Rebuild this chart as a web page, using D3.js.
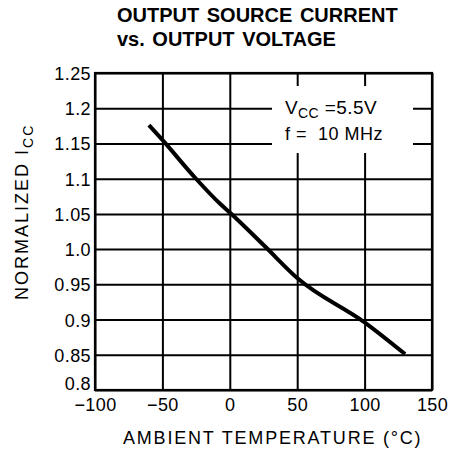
<!DOCTYPE html>
<html>
<head>
<meta charset="utf-8">
<script src="https://cdn.jsdelivr.net/npm/d3@7"></script>
<style>
  html, body { margin: 0; padding: 0; background: #fff; }
  svg { display: block; font-family: "Liberation Sans", Arial, Helvetica, sans-serif; }
</style>
</head>
<body>
<svg id="chart" width="454" height="454"></svg>
<script>
// ---- data ----
const titleLines = ["OUTPUT SOURCE CURRENT", "vs. OUTPUT VOLTAGE"];
const xTicks = [-100, -50, 0, 50, 100, 150];
const xTickLabels = ["\u2212100", "\u221250", "0", "50", "100", "150"];
const yTicks = [1.25, 1.2, 1.15, 1.1, 1.05, 1.0, 0.95, 0.9, 0.85, 0.8];
const yTickLabels = ["1.25", "1.2", "1.15", "1.1", "1.05", "1.0", "0.95", "0.9", "0.85", "0.8"];
const temperature = [-60, -50, -27, -7, 0, 26, 50, 100, 130];
const normalizedIcc = [1.176, 1.155, 1.104, 1.064, 1.052, 1.004, 0.959, 0.896, 0.851];
const xTitle = "AMBIENT TEMPERATURE (\u00B0C)";
const yTitleMain = "NORMALIZED I";
const yTitleSub = "CC";
const noteLine1 = ["V", "CC", " =5.5V"];
const noteLine2 = "f =  10 MHz";

// ---- layout ----
const svg = d3.select("#chart");
const pL = 95, pR = 432, pT = 73, pB = 390;
const x = d3.scaleLinear().domain([-100, 150]).range([pL, pR]);
const y = d3.scaleLinear().domain([0.8, 1.25]).range([pB, pT]);

// title
svg.append("g").selectAll("text").data(titleLines).join("text")
  .attr("x", 117).attr("y", (d, i) => 22 + i * 24)
  .attr("font-size", 20).attr("font-weight", "bold")
  .attr("word-spacing", 2)
  .text(d => d);

// grid via axes
const gx = svg.append("g").attr("transform", `translate(0,${pB})`)
  .call(d3.axisBottom(x).tickValues(xTicks).tickSize(-(pB - pT)).tickFormat((d, i) => xTickLabels[i]));
const gy = svg.append("g").attr("transform", `translate(${pL},0)`)
  .call(d3.axisLeft(y).tickValues(yTicks).tickSize(-(pR - pL)).tickFormat((d, i) => yTickLabels[i]));
[gx, gy].forEach(g => {
  g.select(".domain").remove();
  g.selectAll(".tick line").attr("stroke", "#000").attr("stroke-width", 2);
  g.selectAll(".tick text").attr("fill", "#000").attr("font-size", 18)
    .attr("letter-spacing", 0.4)
    .attr("font-family", "Liberation Sans, Arial, sans-serif");
});
gx.selectAll(".tick text").attr("dy", "1.0em").attr("y", 3);
gy.selectAll(".tick text").attr("x", -4).attr("dy", (d, i) => i === yTicks.length - 1 ? "-0.05em" : "0.36em");

// frame
svg.append("rect").attr("x", pL).attr("y", pT)
  .attr("width", pR - pL).attr("height", pB - pT)
  .attr("fill", "none").attr("stroke", "#000").attr("stroke-width", 2.2);

// annotation box (white backing over grid)
svg.append("rect").attr("x", 272).attr("y", 86).attr("width", 141).attr("height", 67).attr("fill", "#fff");
const n1 = svg.append("text").attr("x", 285).attr("y", 114).attr("font-size", 19).attr("letter-spacing", 0.4);
n1.append("tspan").text(noteLine1[0]);
n1.append("tspan").attr("font-size", 14).attr("dy", 4).text(noteLine1[1]);
n1.append("tspan").attr("dy", -4).text(noteLine1[2]);
svg.append("text").attr("x", 285).attr("y", 140).attr("font-size", 18).attr("letter-spacing", 0.5)
  .style("white-space", "pre").text(noteLine2);

// curve
const pts = temperature.map((t, i) => [t, normalizedIcc[i]]);
svg.append("path").datum(pts)
  .attr("fill", "none").attr("stroke", "#000").attr("stroke-width", 4)
  .attr("d", d3.line().x(d => x(d[0])).y(d => y(d[1])).curve(d3.curveMonotoneX));

// axis titles
svg.append("text").attr("x", 123).attr("y", 444).attr("font-size", 18)
  .attr("letter-spacing", 1.8).text(xTitle);
const yt = svg.append("text").attr("transform", "translate(28,300) rotate(-90)").attr("font-size", 18)
  .attr("letter-spacing", 2);
yt.append("tspan").text(yTitleMain);
yt.append("tspan").attr("font-size", 14).attr("dy", 5).text(yTitleSub);
</script>
</body>
</html>
